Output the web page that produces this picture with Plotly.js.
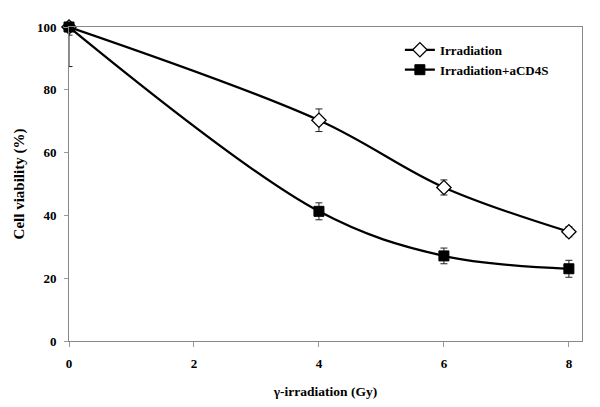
<!DOCTYPE html>
<html><head><meta charset="utf-8">
<script src="https://cdn.plot.ly/plotly-3.0.1.min.js"></script>
<style>body{margin:0;padding:0;background:#fff}#chart{width:600px;height:407px}</style>
</head><body><div id="chart"></div>
<script>
const doses = [0, 4, 6, 8];
const irradiation = [100, 70.3, 48.9, 34.8];
const irradiationErrUp = [0, 3.6, 2.4, 1.6];
const irradiationErrDown = [2.6, 3.6, 2.4, 1.6];
const combo = [100, 41.3, 27.1, 23.0];
const comboErrUp = [0, 2.7, 2.5, 2.7];
const comboErrDown = [12.6, 2.7, 2.5, 2.7];
const xTicks = [0, 2, 4, 6, 8];
const yTicks = [0, 20, 40, 60, 80, 100];

const fontFam = '"Liberation Serif", "Times New Roman", serif';
const errStyle = {type:'data', symmetric:false, color:'#222', thickness:1, width:3.5};

const traces = [
  {x: doses, y: irradiation, name: 'Irradiation', type:'scatter', mode:'lines+markers',
   line:{color:'#000', width:2.2, shape:'spline', smoothing:1},
   marker:{symbol:'diamond', size:11, color:'#fff', line:{color:'#000', width:1.3}},
   error_y:Object.assign({array: irradiationErrUp, arrayminus: irradiationErrDown}, errStyle),
   cliponaxis:false},
  {x: doses, y: combo, name: 'Irradiation+aCD4S', type:'scatter', mode:'lines+markers',
   line:{color:'#000', width:2.2, shape:'spline', smoothing:1},
   marker:{symbol:'square', size:10, color:'#000', line:{color:'#000', width:1}},
   error_y:Object.assign({array: comboErrUp, arrayminus: comboErrDown}, errStyle),
   cliponaxis:false}
];

const layout = {
  width:600, height:407,
  margin:{l:69, r:18, t:27, b:66},
  paper_bgcolor:'#fff', plot_bgcolor:'#fff',
  font:{family:fontFam, size:13, color:'#000', weight:'bold'},
  showlegend:true,
  legend:{x:0.645, y:0.975, xanchor:'left', yanchor:'top', bgcolor:'rgba(0,0,0,0)',
          font:{family:fontFam, size:13, color:'#000', weight:'bold'}, tracegroupgap:0},
  xaxis:{range:[0, 8.21], tickvals:xTicks, ticktext:xTicks.map(String),
         showgrid:false, zeroline:false, showline:true, linecolor:'#888', linewidth:1, mirror:true,
         ticks:'outside', ticklen:5, tickcolor:'#999', ticklabelstandoff:5,
         tickfont:{family:fontFam, size:13, color:'#000', weight:'bold'},
         title:{text:'γ-irradiation (Gy)', font:{family:fontFam, size:13.5, color:'#000', weight:'bold'}, standoff:16}},
  yaxis:{range:[0, 100], tickvals:yTicks, ticktext:yTicks.map(String),
         showgrid:false, zeroline:false, showline:true, linecolor:'#888', linewidth:1, mirror:true,
         ticks:'outside', ticklen:4, tickcolor:'#999', ticklabelstandoff:5,
         tickfont:{family:fontFam, size:13, color:'#000', weight:'bold'},
         title:{text:'Cell viability (%)', font:{family:fontFam, size:15, color:'#000', weight:'bold'}, standoff:8}}
};
Plotly.newPlot('chart', traces, layout, {displayModeBar:false, staticPlot:true});
</script></body></html>
